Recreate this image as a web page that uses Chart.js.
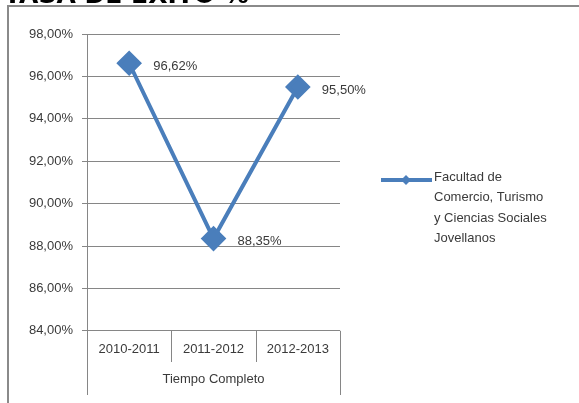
<!DOCTYPE html>
<html>
<head>
<meta charset="utf-8">
<script src="https://cdn.jsdelivr.net/npm/chart.js@4"></script>
<style>
  html, body { margin: 0; padding: 0; background: #fff; }
  #wrap { width: 579px; height: 403px; position: relative; }
</style>
</head>
<body>
<div id="wrap"><canvas id="chart" width="579" height="403"></canvas></div>
<script>
// chart data
const categories = ["2010-2011", "2011-2012", "2012-2013"];
const groupLabel = "Tiempo Completo";
const seriesName = ["Facultad de", "Comercio, Turismo", "y Ciencias Sociales", "Jovellanos"];
const seriesValues = [96.62, 88.35, 95.50];
const titleText = "TASA DE ÉXITO %";

const lineColor = "#4a7ebb";
const gridColor = "#868686";
const textColor = "#3a3a3a";
const fontFamily = "'Liberation Sans', Arial, sans-serif";

function pct(v) {
    return v.toFixed(2).replace(".", ",") + "%";
}

// draws the frame, title, category boxes, value labels and legend
const decorations = {
    id: "decorations",
    afterDraw(chart) {
        const ctx = chart.ctx;
        const area = chart.chartArea;
        const x = chart.scales.x;

        ctx.save();

        // cut-off title above the frame
        ctx.fillStyle = "#000";
        ctx.font = "bold 25px 'DejaVu Sans', sans-serif";
        ctx.textAlign = "left";
        ctx.textBaseline = "alphabetic";
        ctx.fillText(titleText, 4, 3);

        // outer frame (top and left only, rest is cropped)
        ctx.strokeStyle = "#8a8a8a";
        ctx.lineWidth = 2;
        ctx.beginPath();
        ctx.moveTo(579, 6);
        ctx.lineTo(8, 6);
        ctx.lineTo(8, 403);
        ctx.stroke();

        // category dividers below the plot
        ctx.strokeStyle = gridColor;
        ctx.lineWidth = 1;
        const step = x.getPixelForValue(1) - x.getPixelForValue(0);
        ctx.beginPath();
        for (let i = 0; i <= categories.length; i++) {
            const px = Math.round(x.getPixelForValue(i) - step / 2) + 0.5;
            const outer = (i === 0 || i === categories.length);
            ctx.moveTo(px, area.bottom);
            ctx.lineTo(px, outer ? 395 : 362);
        }
        ctx.stroke();

        // value labels next to each point
        ctx.fillStyle = textColor;
        ctx.font = "13px " + fontFamily;
        ctx.textBaseline = "middle";
        const meta = chart.getDatasetMeta(0);
        meta.data.forEach((pt, i) => {
            ctx.fillText(pct(seriesValues[i]), pt.x + 24, pt.y + 3);
        });

        // legend
        const ly = 180;
        ctx.strokeStyle = lineColor;
        ctx.lineWidth = 4;
        ctx.beginPath();
        ctx.moveTo(381, ly);
        ctx.lineTo(432, ly);
        ctx.stroke();
        ctx.fillStyle = lineColor;
        ctx.beginPath();
        ctx.moveTo(406, ly - 5);
        ctx.lineTo(411, ly);
        ctx.lineTo(406, ly + 5);
        ctx.lineTo(401, ly);
        ctx.closePath();
        ctx.fill();

        ctx.fillStyle = textColor;
        ctx.textAlign = "left";
        const lineYs = [177, 197, 218, 238];
        seriesName.forEach((t, i) => ctx.fillText(t, 434, lineYs[i]));

        ctx.restore();
    }
};

const chart = new Chart(document.getElementById("chart").getContext("2d"), {
    type: "line",
    data: {
        labels: categories,
        datasets: [{
            label: seriesName.join(" "),
            data: seriesValues,
            borderColor: lineColor,
            backgroundColor: lineColor,
            borderWidth: 4,
            pointStyle: "rectRot",
            pointRadius: 10,
            pointHoverRadius: 10,
            tension: 0
        }]
    },
    options: {
        animation: false,
        responsive: false,
        layout: {
            padding: { left: 0, right: 239, top: 34, bottom: 0 }
        },
        plugins: {
            legend: { display: false },
            tooltip: { enabled: false }
        },
        scales: {
            x: {
                offset: true,
                grid: { display: false, drawTicks: false },
                border: { display: false },
                ticks: {
                    color: textColor,
                    font: { family: fontFamily, size: 13 },
                    padding: 11
                },
                title: {
                    display: true,
                    text: groupLabel,
                    color: textColor,
                    font: { family: fontFamily, size: 13 },
                    padding: { top: 3, bottom: 16 }
                }
            },
            y: {
                min: 84,
                max: 98,
                afterFit(scale) { scale.width = 87; },
                grid: { color: gridColor, tickLength: 5 },
                border: { color: gridColor },
                ticks: {
                    stepSize: 2,
                    color: textColor,
                    font: { family: fontFamily, size: 13 },
                    padding: 9,
                    callback: v => pct(v)
                }
            }
        }
    },
    plugins: [decorations]
});
</script>
</body>
</html>
